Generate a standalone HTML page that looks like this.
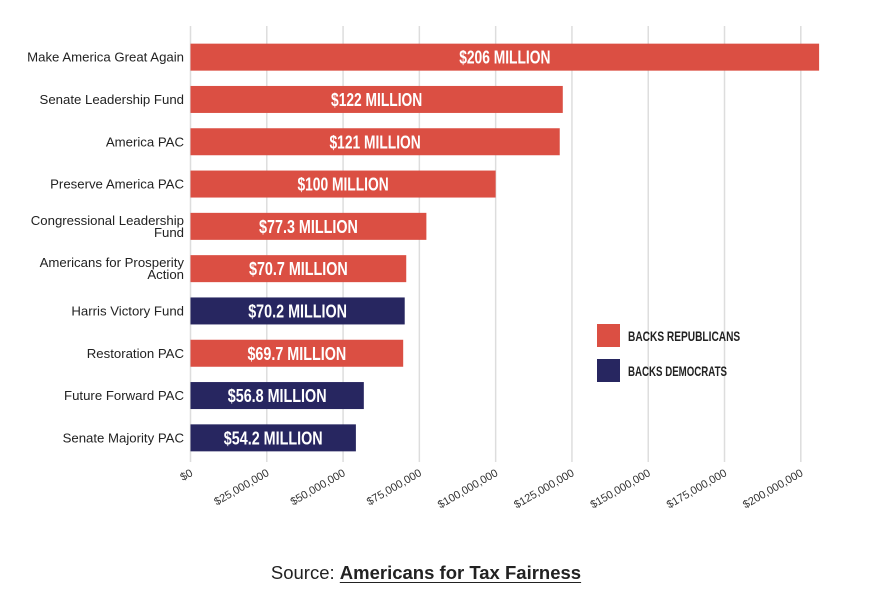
<!DOCTYPE html>
<html><head><meta charset="utf-8"><style>
body{margin:0;background:#fff;width:886px;height:599px;overflow:hidden;font-family:"Liberation Sans",sans-serif}
.src{position:absolute;left:0;width:852px;top:562px;text-align:center;font-size:18.5px;color:#222}
.src b{text-decoration:underline;text-underline-offset:3px}
</style></head><body>
<svg id="chart" width="886" height="550" style="position:absolute;left:0;top:0"></svg>
<div class="src">Source: <b>Americans for Tax Fairness</b></div>
<script>
const categories=["Make America Great Again","Senate Leadership Fund","America PAC","Preserve America PAC","Congressional Leadership|Fund","Americans for Prosperity|Action","Harris Victory Fund","Restoration PAC","Future Forward PAC","Senate Majority PAC"];
const values=[206,122,121,100,77.3,70.7,70.2,69.7,56.8,54.2];
const parties=["R","R","R","R","R","R","D","R","D","D"];
const valueLabels=["$206 MILLION","$122 MILLION","$121 MILLION","$100 MILLION","$77.3 MILLION","$70.7 MILLION","$70.2 MILLION","$69.7 MILLION","$56.8 MILLION","$54.2 MILLION"];
const ticks=[0,25,50,75,100,125,150,175,200];
const tickLabels=["$0","$25,000,000","$50,000,000","$75,000,000","$100,000,000","$125,000,000","$150,000,000","$175,000,000","$200,000,000"];
const NS="http://www.w3.org/2000/svg",svg=document.getElementById('chart');
const x0=190.5,pxPer=(800.8-190.5)/200;
const X=v=>x0+v*pxPer;
const rowTop=36,rowH=42.3,barH=27;
const Y=i=>rowTop+i*rowH+(rowH-barH)/2;
const colors={R:"#db4f43",D:"#272660"};
function mk(t,a){const e=document.createElementNS(NS,t);for(const k in a)e.setAttribute(k,a[k]);svg.appendChild(e);return e;}
ticks.forEach((t,i)=>{
 const g=mk('line',{x1:X(t),x2:X(t),y1:26,y2:462,stroke:"#ddd","stroke-width":1.5});
 
 
 const tx=mk('text',{x:X(t)+3,y:475,"text-anchor":"end","font-size":11,fill:"#333",transform:`rotate(-30 ${X(t)+3} 475)`});
 tx.textContent=tickLabels[i];
 
 
});
categories.forEach((c,i)=>{
 const y=Y(i);
 const r=mk('rect',{x:X(0),y:y,width:X(values[i])-X(0),height:barH,fill:colors[parties[i]]});
 
 
 const lines=c.split('|');
 lines.forEach((l,j)=>{
  const t=mk('text',{x:184,y:y+barH/2+4.5+(lines.length>1?(j-0.5)*12:0),"text-anchor":"end","font-size":13.2,fill:"#222"});
  t.textContent=l;
  
  
 });
 const lbl=valueLabels[i];
 const v=mk('text',{x:(X(0)+X(values[i]))/2,y:y+barH/2+6.5,"text-anchor":"middle","font-size":18,"font-weight":"bold",fill:"#fff",textLength:lbl.length*7.6,lengthAdjust:"spacingAndGlyphs"});
 v.textContent=lbl;
 
 
});
[["R","BACKS REPUBLICANS",324],["D","BACKS DEMOCRATS",359]].forEach(([p,l,y])=>{
 const s=mk('rect',{x:597,y:y,width:23,height:23,fill:colors[p]});
 
 
 const t=mk('text',{x:628,y:y+17,"font-size":14,"font-weight":"bold",fill:"#222",textLength:l.length*6.6,lengthAdjust:"spacingAndGlyphs"});
 t.textContent=l;
 
 
});
</script>
</body></html>
